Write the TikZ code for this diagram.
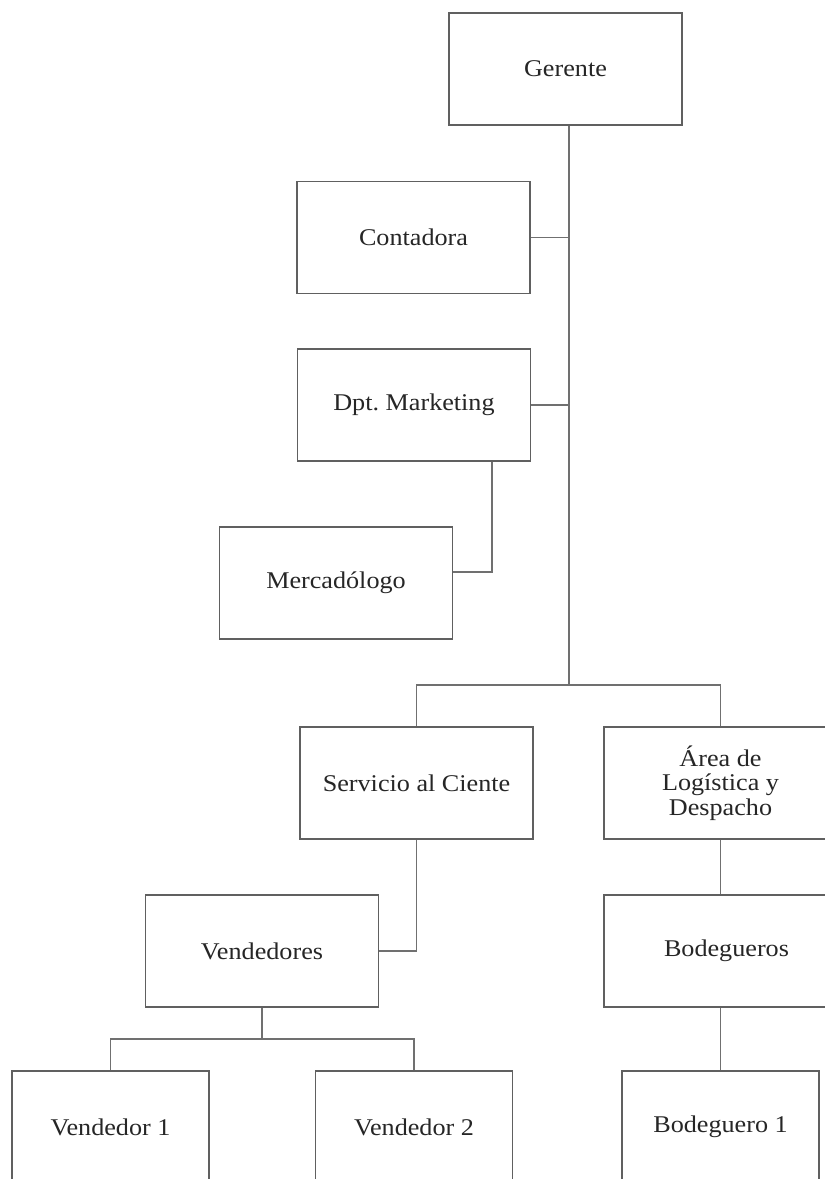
\documentclass[tikz,border=0pt]{standalone}
\usepackage{fontspec}
\setmainfont{Liberation Serif}[FakeStretch=1.09]
\definecolor{boxline}{HTML}{606060}
\definecolor{conn}{HTML}{707070}
\definecolor{txt}{HTML}{262626}
\frenchspacing
\begin{document}
\begin{tikzpicture}[x=1pt,y=-1pt,
  box/.style={draw=boxline,line width=1.4pt,rectangle,minimum width=233pt,minimum height=112pt,inner sep=0pt,align=center,text=txt,font=\fontsize{24}{24.5}\selectfont},
  smallbox/.style={box,minimum width=197pt},
  link/.style={draw=conn,line width=1.4pt}]
\useasboundingbox (0,0) rectangle (825,1179);
\clip (0,0) rectangle (825,1179);
\fill[white] (0,0) rectangle (825,1179);
% boxes
\node[box] (ger) at (565.5,69) {Gerente};
\node[box] (con) at (413.5,237.5) {Contadora};
\node[box] (dpt) at (414,405) {Dpt. Marketing};
\node[box] (mer) at (336,583) {Mercadólogo};
\node[box] (ser) at (416.5,783) {Servicio al Ciente};
\node[box] (are) at (720.5,783) {Área de\\Logística y\\Despacho};
\node[box] (ven) at (262,951) {Vendedores};
\node[box] (bod) at (720.5,951) {\hspace*{12pt}Bodegueros};
\node[smallbox] (v1) at (110.5,1127) {Vendedor 1};
\node[smallbox] (v2) at (414,1127) {Vendedor 2};
\node[smallbox] (b1) at (720.5,1127) {Bodeguero 1};
% connectors
\coordinate (trunk) at (569,685);
\coordinate (mk) at (492,572);
\coordinate (vj) at (262,1039);
\draw[link] (ger.south -| trunk) -- (trunk);
\draw[link] (con.east) -- (con.east -| trunk);
\draw[link] (dpt.east) -- (dpt.east -| trunk);
\draw[link] (ser.north) |- (trunk) -| (are.north);
\draw[link] (dpt.south -| mk) |- (mer.east |- mk);
\draw[link] (ser.south) |- (ven.east);
\draw[link] (ven.south) -- (vj);
\draw[link] (v1.north) |- (vj) -| (v2.north);
\draw[link] (are.south) -- (bod.north);
\draw[link] (bod.south) -- (b1.north);
\end{tikzpicture}
\end{document}
